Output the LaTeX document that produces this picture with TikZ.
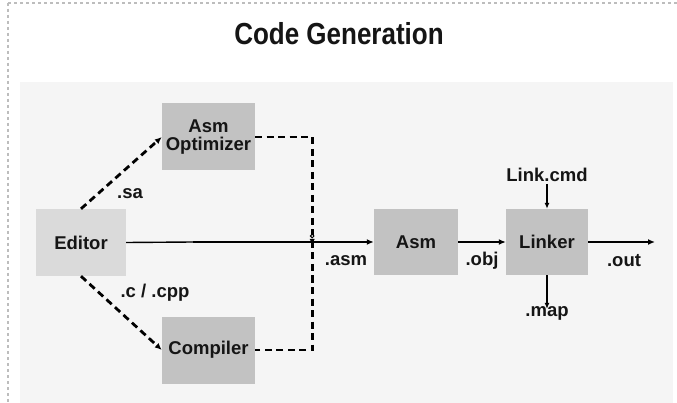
\documentclass[tikz,border=0pt]{standalone}
\usepackage{fontspec}
\usepackage{graphicx}
\setmainfont{Liberation Sans}
\usetikzlibrary{arrows.meta}
\definecolor{panel}{HTML}{F5F5F5}
\definecolor{edfill}{HTML}{DADADA}
\definecolor{boxfill}{HTML}{C2C2C2}
\definecolor{framegray}{HTML}{BDBDBD}
\definecolor{ink}{HTML}{151515}
\tikzset{
  stagebox/.style={fill=boxfill, draw=none, minimum width=#1, minimum height=67pt,
    inner sep=0pt, align=center, text=ink, font=\fontsize{18.5}{18}\selectfont\bfseries},
  stagebox/.default=92pt,
  tag/.style={inner sep=0pt, text=ink, font=\fontsize{18.5}{18.5}\selectfont\bfseries},
  flow/.style={line width=2.4pt, -{Latex[length=7pt,width=6pt]}},
  thinflow/.style={line width=1.4pt},
  feed/.style={line width=2.8pt, dash pattern=on 7pt off 4.5pt},
  feedarrow/.style={feed, -{Latex[length=7pt,width=6pt]}},
  tickarrow/.style={line width=1.6pt, -{Latex[length=6pt,width=5pt]}},
}
\begin{document}
\begin{tikzpicture}[x=1pt,y=-1pt]
\useasboundingbox (0,0) rectangle (677,403);
% outer frame and shaded panel
\fill[white] (0,0) rectangle (677,403);
\draw[framegray, line width=1.6pt, dash pattern=on 3pt off 3pt] (8,3) -- (677,3);
\draw[framegray, line width=1.6pt, dash pattern=on 3pt off 3pt] (8,3) -- (8,403);
\fill[panel] (20,82) rectangle (673,403);
% title
\node[text=ink, font=\fontsize{26}{26}\selectfont\bfseries] (title) at (339,34) {\scalebox{1}[1.17]{Code Generation}};
% stages
\node[stagebox=90pt, fill=edfill] (ed) at (81,242.5) {Editor};
\node[stagebox=93pt] (opt) at (208.5,137) {Asm\\Optimizer};
\node[stagebox=93pt] (comp) at (208.5,350) {Compiler};
\node[stagebox=84pt, minimum height=66pt] (asm) at (416,242) {Asm};
\node[stagebox=82pt, minimum height=66pt] (lnk) at (547,242) {Linker};
% labels
\node[tag] (sa) at (130,194) {.sa};
\node[tag] (cpp) at (155,293) {.c / .cpp};
\node[tag] (asml) at (346,261) {.asm};
\node[tag] (obj) at (482,261) {.obj};
\node[tag] (out) at (624,261) {.out};
\node[tag] (map) at (547,313) {.map};
\node[tag] (cmd) at (547,175) {Link.cmd};
% main flow
\coordinate (mid) at (193,242);
\coordinate (outend) at (655,242);
\draw[thinflow] (ed.east) -- (mid);
\draw[flow] (mid) -- (asm.west);
\draw[flow] (asm.east) -- (lnk.west);
\draw[flow] (lnk.east) -- (outend);
\draw[tickarrow] (cmd.south) ++(0,2) -- (lnk.north);
\draw[tickarrow] (lnk.south) -- ([yshift=-3pt]map.north);
% dashed feeds
\draw[feedarrow] (ed.north) -- (opt.west);
\draw[feedarrow] (ed.south) -- (comp.west);
\draw[feed] (opt.east) -- ++(57,0) coordinate (jt) |- (comp.east);
% marks where the dashed feed crosses the main flow
\fill ([yshift=-2pt]jt |- mid) -- ++(-2.5,-5) -- ++(5,0) -- cycle;
\draw[line width=1pt, fill=white] ([yshift=6pt]jt |- mid) circle (1.8pt);
\end{tikzpicture}
\end{document}
